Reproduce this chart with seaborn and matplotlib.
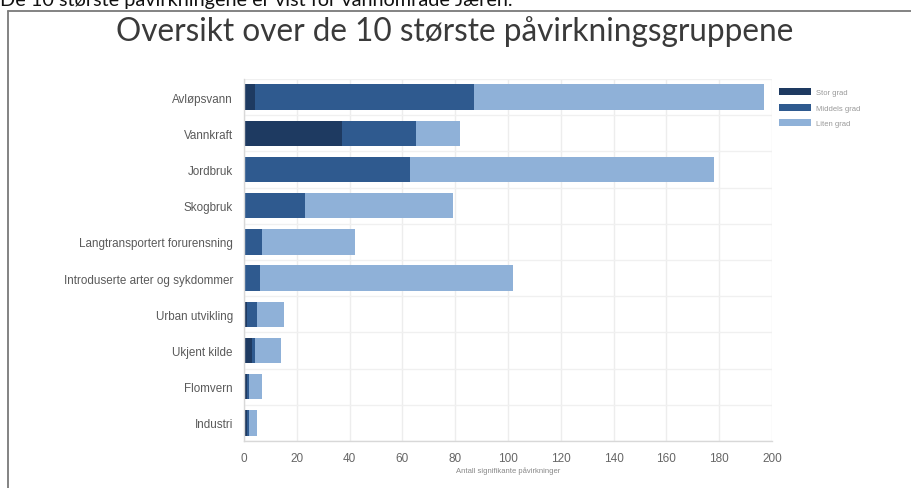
import numpy as np
import pandas as pd
import matplotlib
matplotlib.use("Agg")
import matplotlib.pyplot as plt
import seaborn as sns
from matplotlib.patches import Patch
from matplotlib.lines import Line2D

# Påvirkningsgrupper og antall signifikante påvirkninger per grad
kategorier = [
    "Avløpsvann",
    "Vannkraft",
    "Jordbruk",
    "Skogbruk",
    "Langtransportert forurensning",
    "Introduserte arter og sykdommer",
    "Urban utvikling",
    "Ukjent kilde",
    "Flomvern",
    "Industri",
]
stor_grad = [4, 37, 0, 0, 0, 0, 1, 3, 1, 1]
middels_grad = [83, 28, 63, 23, 7, 6, 4, 1, 1, 1]
liten_grad = [110, 17, 115, 56, 35, 96, 10, 10, 5, 3]

serienavn = ["Stor grad", "Middels grad", "Liten grad"]
x_ticks = [0, 20, 40, 60, 80, 100, 120, 140, 160, 180, 200]

farger = ["#1e3a61", "#2f5a8f", "#8fb1d8"]

sns.set_theme(style="white")
plt.rcParams["font.family"] = ["Liberation Sans", "DejaVu Sans"]

W, H = 911, 489
fig = plt.figure(figsize=(W / 100, H / 100), dpi=100)
fig.patch.set_facecolor("white")

ax = fig.add_axes([244 / W, 1 - 442 / H, 528 / W, 362 / H])

df = pd.DataFrame({
    "kategori": kategorier,
    "stor": stor_grad,
    "middels": middels_grad,
    "liten": liten_grad,
})
# Stablede søyler: kumulative summer tegnes oppå hverandre
df["t_middels"] = df["stor"] + df["middels"]
df["t_liten"] = df["t_middels"] + df["liten"]

for kol, farge in [("t_liten", farger[2]), ("t_middels", farger[1]), ("stor", farger[0])]:
    sns.barplot(data=df, y="kategori", x=kol, orient="h", order=kategorier,
                color=farge, saturation=1, width=0.7, errorbar=None, ax=ax,
                linewidth=0)

ax.set_xlim(0, 200)
ax.set_ylim(9.5, -0.5)
ax.set_xticks(x_ticks)
ax.set_xticklabels([str(v) for v in x_ticks])
ax.set_yticks(range(len(kategorier)))
ax.set_yticklabels(kategorier)
ax.set_yticks(np.arange(-0.5, len(kategorier), 1), minor=True)

ax.set_axisbelow(True)
ax.xaxis.grid(True, color="#ededed", lw=1)
ax.yaxis.grid(True, which="minor", color="#f0f0f0", lw=1)
ax.yaxis.grid(False, which="major")

for s in ["top", "right"]:
    ax.spines[s].set_visible(False)
for s in ["left", "bottom"]:
    ax.spines[s].set_color("#d8d8d8")
    ax.spines[s].set_linewidth(1)

ax.tick_params(axis="x", length=5, color="#ededed", labelsize=8.5,
               labelcolor="#666666", pad=3)
ax.tick_params(axis="y", which="major", length=0, labelsize=8.4,
               labelcolor="#5a5a5a", pad=8)
ax.tick_params(axis="y", which="minor", length=0)
ax.set_xlabel("")
ax.set_ylabel("")

fig.text((244 + 772) / 2 / W, 1 - 471 / H, "Antall signifikante påvirkninger",
         ha="center", va="center", fontsize=5.5, color="#888888")

handles = [Patch(facecolor=c, edgecolor="none") for c in farger]
fig.legend(handles, serienavn, loc="upper left",
           bbox_to_anchor=(776 / W, 1 - 86 / H), frameon=False,
           fontsize=5.5, handlelength=4.2, handleheight=1.0,
           labelspacing=1.0, handletextpad=0.6, labelcolor="#999999",
           borderaxespad=0)

fig.text(455 / W, 1 - 41 / H, "Oversikt over de 10 største påvirkningsgruppene",
         ha="center", va="baseline", fontsize=22.7, family=["Lato", "DejaVu Sans"],
         color="#3a3a3a")

fig.text(0, 1 - 6 / H, "De 10 største påvirkningene er vist for vannområde Jæren.",
         ha="left", va="baseline", fontsize=14.3, family=["Lato", "DejaVu Sans"],
         color="#111111")

# Ramme rundt diagrammet
fig.add_artist(Line2D([7.5 / W, 7.5 / W], [0, 1 - 12 / H], transform=fig.transFigure,
                      color="#7a7a7a", lw=1.3))
fig.add_artist(Line2D([7.5 / W, 1], [1 - 12 / H, 1 - 12 / H], transform=fig.transFigure,
                      color="#7a7a7a", lw=1.3))

fig.savefig("out.png", dpi=100, facecolor="white")
